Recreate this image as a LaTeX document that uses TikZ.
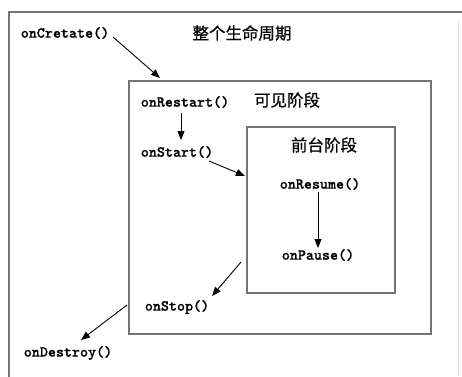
\documentclass[tikz,border=0pt]{standalone}
\usepackage{fontspec}
\newfontfamily\cjk[FakeBold=0.6]{Noto Sans CJK SC}
\newfontfamily\fnfont[Extension=.otf,FakeBold=0.6]{lmmonolt10-bold}
\usetikzlibrary{arrows.meta}
\tikzset{
  frame/.style={draw=black!55, line width=1.6pt},
  fn/.style={inner sep=0pt, font=\fontsize{15.3}{16}\selectfont\fnfont},
  zh/.style={inner sep=0pt, font=\fontsize{16.5}{18}\selectfont\cjk},
  arr/.style={draw=black, line width=0.9pt, -{Triangle[length=9pt,width=7pt]}}
}
\begin{document}
\begin{tikzpicture}[x=1pt,y=-1pt]
\useasboundingbox[fill=white] (0,0) rectangle (462,376);
% outer frame (cut by the picture edge)
\draw[frame] (9,380) -- (9,12) -- (470,12);
\draw[draw=black!12, line width=1pt] (458,20) -- (458,376);
% middle and inner frames
\draw[frame] (129,81) rectangle (431,334);
\draw[frame] (247,127) rectangle (395,293);
% texts
\node[fn] (create) at (65,33) {onCretate()};
\node[zh] (whole) at (242,33) {整个生命周期};
\node[fn] (restart) at (185,102) {onRestart()};
\node[zh] (visible) at (287,100) {可见阶段};
\node[fn] (start) at (177,152) {onStart()};
\node[zh] (front) at (324,145) {前台阶段};
\node[fn] (resume) at (320,184) {onResume()};
\node[fn] (pause) at (318,255) {onPause()};
\node[fn] (stop) at (177,307) {onStop()};
\node[fn] (destroy) at (68,353) {onDestroy()};
% arrow end points
\coordinate (a1s) at (113,37);
\coordinate (a1e) at (160,78);
\coordinate (a2s) at (181,113);
\coordinate (a2e) at (181,140);
\coordinate (a3s) at (209,161);
\coordinate (a3e) at (245,176);
\coordinate (a4s) at (318,192);
\coordinate (a4e) at (318,248);
\coordinate (a5s) at (241,262);
\coordinate (a5e) at (212,296);
\coordinate (a6s) at (127,305);
\coordinate (a6e) at (81,340);
% arrows
\draw[arr] (a1s) -- (a1e);
\draw[arr] (a2s) -- (a2e);
\draw[arr] (a3s) -- (a3e);
\draw[arr] (a4s) -- (a4e);
\draw[arr] (a5s) -- (a5e);
\draw[arr] (a6s) -- (a6e);
\end{tikzpicture}
\end{document}
